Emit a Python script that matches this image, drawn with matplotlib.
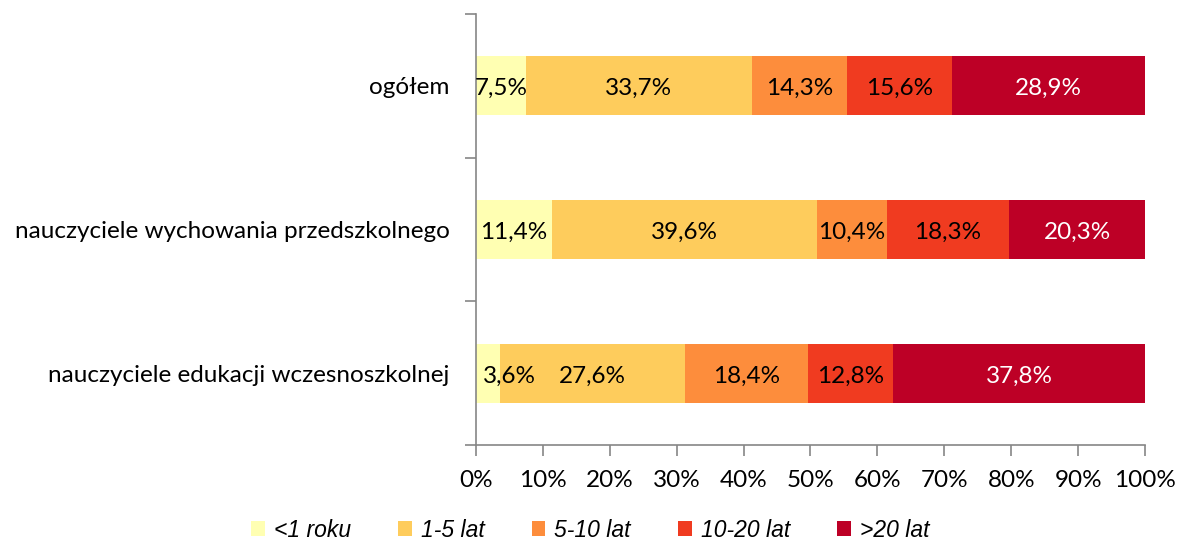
import matplotlib
matplotlib.use("Agg")
import matplotlib.pyplot as plt
from matplotlib.ticker import FixedLocator, PercentFormatter

categories = [
    "ogółem",
    "nauczyciele wychowania przedszkolnego",
    "nauczyciele edukacji wczesnoszkolnej",
]
series_names = ["<1 roku", "1-5 lat", "5-10 lat", "10-20 lat", ">20 lat"]
values = [
    [7.5, 33.7, 14.3, 15.6, 28.9],
    [11.4, 39.6, 10.4, 18.3, 20.3],
    [3.6, 27.6, 18.4, 12.8, 37.8],
]
colors = ["#FFFFB2", "#FECC5C", "#FD8D3C", "#F03B20", "#BD0026"]
text_colors = ["black", "black", "black", "black", "white"]
x_ticks = [0, 10, 20, 30, 40, 50, 60, 70, 80, 90, 100]

label_font = "Lato"
legend_font = "Liberation Sans"
fs = 17.5

fig = plt.figure(figsize=(11.78, 5.42), dpi=100)
ax = fig.add_axes([0.404, 0.179, 0.568, 0.795])

ypos = list(range(len(categories)))
lefts = [0.0] * len(categories)
for s, name in enumerate(series_names):
    widths = [row[s] for row in values]
    bars = ax.barh(ypos, widths, left=lefts, height=0.41, color=colors[s],
                   label=name, edgecolor="none")
    for i, (b, w) in enumerate(zip(bars, widths)):
        cx = lefts[i] + w / 2
        # keep very thin segments' labels clear of the axis line
        if w < 5:
            cx = lefts[i] + 5.0
        ax.text(cx, i + 0.02, f"{w:.1f}%".replace(".", ","), ha="center",
                va="center", fontsize=fs, color=text_colors[s],
                family=label_font)
    lefts = [l + w for l, w in zip(lefts, widths)]

ax.set_xlim(0, 100)
ax.set_ylim(len(categories) - 0.5, -0.5)
ax.xaxis.set_major_locator(FixedLocator(x_ticks))
ax.xaxis.set_major_formatter(PercentFormatter(decimals=0))
ax.set_yticks(ypos)
ax.set_yticklabels(categories)
ax.yaxis.set_minor_locator(FixedLocator([-0.5, 0.5, 1.5, 2.5]))

spine_color = "#868686"
for side in ["top", "right"]:
    ax.spines[side].set_visible(False)
for side in ["left", "bottom"]:
    ax.spines[side].set_color(spine_color)
    ax.spines[side].set_linewidth(1.2)

ax.tick_params(axis="y", which="major", length=0, pad=19)
ax.tick_params(axis="y", which="minor", length=8, color=spine_color, width=1.2)
ax.tick_params(axis="x", which="major", length=8, color=spine_color, width=1.2,
               pad=10)
for lbl in ax.get_xticklabels() + ax.get_yticklabels():
    lbl.set_fontfamily(label_font)
    lbl.set_fontsize(fs)
    lbl.set_color("black")

leg = fig.legend(loc="center", bbox_to_anchor=(0.501, 0.022), ncol=5,
                 frameon=False, handlelength=0.6, handleheight=0.6,
                 handletextpad=0.4, columnspacing=2.05,
                 prop={"family": legend_font, "style": "italic", "size": 16.5})

fig.savefig("out.png", dpi=100)
